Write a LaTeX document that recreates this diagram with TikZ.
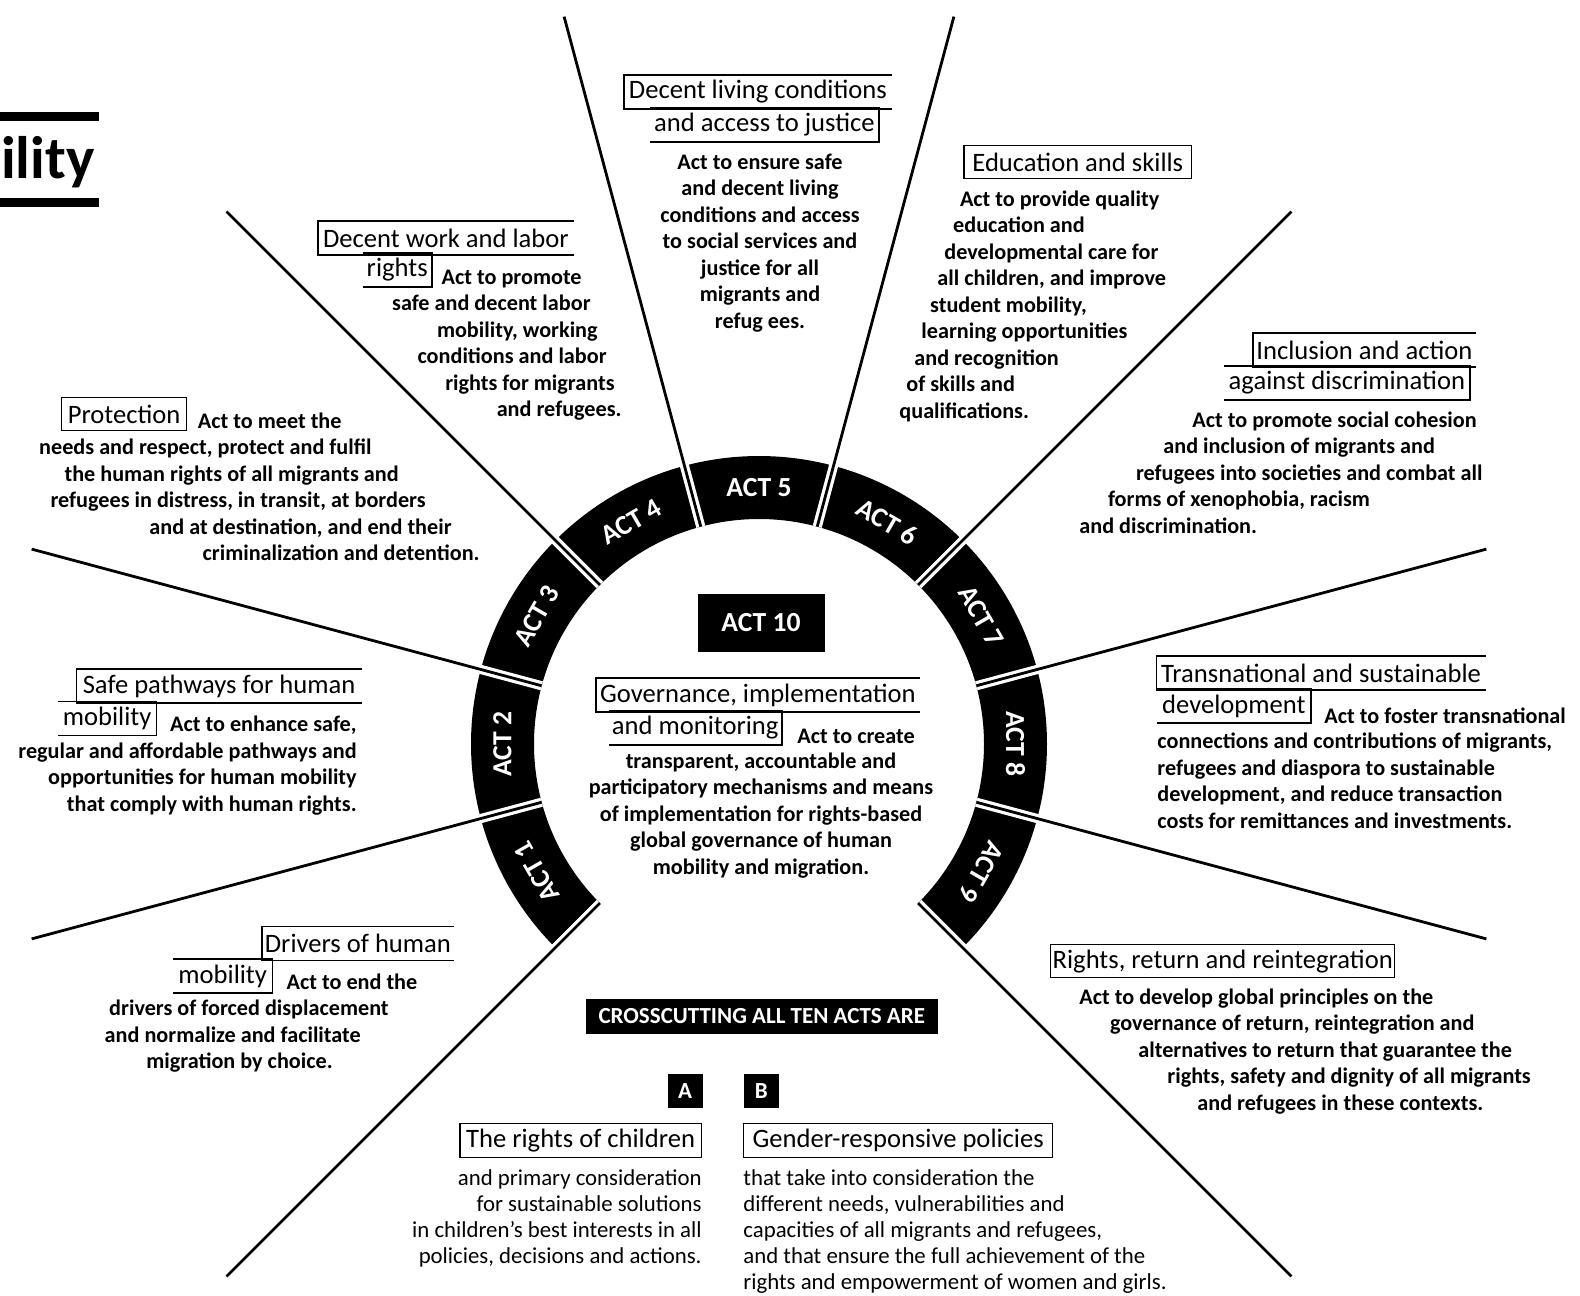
\documentclass[tikz,border=0pt]{standalone}
\usepackage{fontspec}
\setmainfont{Carlito}
\usepackage{tikz}
\usetikzlibrary{calc,positioning}

\newcommand\fonthead{\fontsize{13.3}{15}\selectfont}
\newcommand\fontbody{\fontsize{11.1}{13.25}\selectfont\bfseries}
\newcommand\fontnote{\fontsize{11.4}{13}\selectfont}
\newcommand\fontact{\fontsize{13.8}{15}\selectfont\bfseries}
\newcommand\fontletter{\fontsize{11.5}{13}\selectfont\bfseries}
\newcommand\fontbig{\fontsize{30}{32}\selectfont\bfseries}

\begin{document}
\begin{tikzpicture}[x=0.5pt,y=-0.5pt]
\tikzstyle{ring}=[fill=black]
\tikzstyle{gap}=[white,line width=4.6pt]
\tikzstyle{spoke}=[line width=1.4pt]
\tikzstyle{act label}=[text=white,font=\fontact,inner sep=0pt]
\tikzstyle{act box}=[fill=black,text=white,font=\fontact,minimum width=63.5pt,minimum height=29pt]
\tikzstyle{head}=[font=\fonthead,inner sep=0pt,minimum height=16.5pt]
\tikzstyle{head box}=[head,draw,line width=0.7pt]
\tikzstyle{head line}=[line width=0.7pt]
\tikzstyle{body}=[font=\fontbody,inner sep=0pt]
\tikzstyle{note}=[font=\fontnote,inner sep=0pt]
\tikzstyle{letter box}=[fill=black,text=white,font=\fontletter,minimum width=17.5pt,minimum height=17pt,inner sep=0pt]

\useasboundingbox (0,0) rectangle (1580,1296);
\coordinate (c) at (759,744);

% cut title
\fill (0,112) rectangle (99,121);
\fill (0,198) rectangle (99,207);
\node[anchor=base east,font=\fontbig,inner sep=0pt] (mob) at (95,178) {ility};

% ring of acts
\foreach \i in {1,...,9}{
  \pgfmathsetmacro\a{210-30*(\i-1)}
  \pgfmathsetmacro\sa{-\a-15}
  \pgfmathsetmacro\ea{-\a+15}
  \fill[ring] ($(c)+(\sa:288)$) arc[start angle=\sa,end angle=\ea,radius=288]
    -- ($(c)+(\ea:225)$) arc[start angle=\ea,end angle=\sa,radius=225] -- cycle;
  \node[act label,rotate=\a-90] (act\i) at ($(c)+(-\a:256.5)$) {ACT \i};
}

% spokes between the acts
\foreach \s [count=\k] in {225,195,...,-45}{
  \coordinate (sin\k) at ($(c)+(-\s:225)$);
  \coordinate (sring\k) at ($(c)+(-\s:292)$);
  \coordinate (sout\k) at ($(c)+(-\s:753)$);
  \draw[gap] (sin\k) -- (sring\k);
  \draw[spoke] (sin\k) -- (sout\k);
}

% act 10 in the middle
\node[act box] (act10) at (761,623) {ACT 10};
\node[head,anchor=north west,minimum width=161.5pt] (gov1) at (596,678) {Governance, implementation};
\node[head,anchor=north west,minimum width=86.2pt] (gov2) at (608.6,711) {and monitoring};
\draw[head line] (gov1.north east) -| (gov1.south west) -- (gov1.south east);
\draw[head line] (gov2.north west) -| (gov2.south east) -- (gov2.south west);
\node[body,anchor=west] (gov3) at (797,736) {Act to create};
\node[body,align=center,anchor=north] (gov4) at (761,752.5) {transparent, accountable and\\participatory mechanisms and means\\of implementation for rights-based\\global governance of human\\mobility and migration.};

% act 5
\node[head,anchor=north west,minimum width=133.5pt] (liv1) at (624,75) {Decent living conditions};
\node[head,anchor=north west,minimum width=114pt] (liv2) at (650,108) {and access to justice};
\draw[head line] (liv1.north east) -| (liv1.south west) -- (liv1.south east);
\draw[head line] (liv2.north west) -| (liv2.south east) -- (liv2.south west);
\node[body,align=center,anchor=north] (liv3) at (760,153.5) {Act to ensure safe\\and decent living\\conditions and access\\to social services and\\justice for all\\migrants and\\refug ees.};

% act 4
\node[head,anchor=north west,minimum width=127.5pt] (work1) at (318,221) {Decent work and labor};
\node[head,anchor=north west,minimum width=34.3pt] (work2) at (362.5,253) {rights};
\draw[head line] (work1.north east) -| (work1.south west) -- (work1.south east);
\draw[head line] (work2.north west) -| (work2.south east) -- (work2.south west);
\node[body,align=right,anchor=north east] (work3) at (622,269.5) {Act to promote\kern20pt\\safe and decent labor\kern15.5pt\\mobility, working\kern12pt\\conditions and labor\kern7.5pt\\rights for migrants\kern3.5pt\\and refugees.};

% act 3
\node[head box,anchor=north west,minimum width=62.4pt] (prot1) at (61,397) {Protection};
\node[body,align=right,anchor=north east] (prot2) at (480,412.5) {Act to meet the\kern69pt\\needs and respect, protect and fulfil\kern54pt\\the human rights of all migrants and\kern40.5pt\\refugees in distress, in transit, at borders\kern27pt\\and at destination, and end their\kern14pt\\criminalization and detention.};

% act 2
\node[head,anchor=north west,minimum width=142pt] (safe1) at (76.7,669) {Safe pathways for human};
\node[head,anchor=north west,minimum width=49pt] (safe2) at (57.7,701.7) {mobility};
\draw[head line] (safe1.north east) -| (safe1.south west) -- (safe1.south east);
\draw[head line] (safe2.north west) -| (safe2.south east) -- (safe2.south west);
\node[body,align=right,anchor=north east] (safe3) at (357,716) {Act to enhance safe,\\regular and affordable pathways and\\opportunities for human mobility\\that comply with human rights.};

% act 1
\node[head,anchor=north west,minimum width=95.5pt] (drv1) at (262,926.7) {Drivers of human};
\node[head,anchor=north west,minimum width=49.3pt] (drv2) at (173,959) {mobility};
\draw[head line] (drv1.north east) -| (drv1.south west) -- (drv1.south east);
\draw[head line] (drv2.north west) -| (drv2.south east) -- (drv2.south west);
\node[body,align=right,anchor=north east] (drv3) at (417.7,973.5) {Act to end the\\drivers of forced displacement\kern14.3pt\\and normalize and facilitate\kern28.3pt\\migration by choice.\kern42.3pt};

% act 6
\node[head box,anchor=north west,minimum width=113.7pt] (edu1) at (963.4,145) {Education and skills};
\node[body,align=left,anchor=north west] (edu2) at (899,190.5) {\kern30.3pt Act to provide quality\\\kern26.9pt education and\\\kern22.5pt developmental care for\\\kern19pt all children, and improve\\\kern15.4pt student mobility,\\\kern11pt learning opportunities\\\kern7.5pt and recognition\\\kern3.5pt of skills and\\qualifications.};

% act 7
\node[head,anchor=north west,minimum width=111pt] (incl1) at (1253,333) {Inclusion and action};
\node[head,anchor=north west,minimum width=122.5pt] (incl2) at (1224,366) {against discrimination};
\draw[head line] (incl1.north east) -| (incl1.south west) -- (incl1.south east);
\draw[head line] (incl2.north west) -| (incl2.south east) -- (incl2.south west);
\node[body,align=left,anchor=north west] (incl3) at (1079,411.2) {\kern56.5pt Act to promote social cohesion\\\kern42pt and inclusion of migrants and\\\kern28.3pt refugees into societies and combat all\\\kern14.3pt forms of xenophobia, racism\\and discrimination.};

% act 8
\node[head,anchor=north west,minimum width=164pt] (trans1) at (1156.7,656) {Transnational and sustainable};
\node[head,anchor=north west,minimum width=76.7pt] (trans2) at (1156.7,689) {development};
\draw[head line] (trans1.north east) -| (trans1.south west) -- (trans1.south east);
\draw[head line] (trans2.north west) -| (trans2.south east) -- (trans2.south west);
\node[body,anchor=west] (trans3) at (1324,716) {Act to foster transnational};
\node[body,align=left,anchor=north west] (trans4) at (1157,732.5) {connections and contributions of migrants,\\refugees and diaspora to sustainable\\development, and reduce transaction\\costs for remittances and investments.};

% act 9
\node[head box,anchor=north west,minimum width=172pt] (ret1) at (1050,944) {Rights, return and reintegration};
\node[body,align=left,anchor=north west] (ret2) at (1079,988.5) {Act to develop global principles on the\\\kern15.3pt governance of return, reintegration and\\\kern29.5pt alternatives to return that guarantee the\\\kern44pt rights, safety and dignity of all migrants\\\kern59pt and refugees in these contexts.};

% crosscutting
\node[fill=black,text=white,font=\fontletter,minimum width=176pt,minimum height=17.5pt,inner sep=0pt] (cross) at (761.8,1016.5) {CROSSCUTTING ALL TEN ACTS ARE};
\node[letter box] (boxa) at (685,1091) {A};
\node[letter box,right=20.3pt of boxa] (boxb) {B};
\node[head box,anchor=north east,minimum width=120.7pt,minimum height=17pt] (kids1) at (702,1123) {The rights of children};
\node[head box,anchor=north west,minimum width=154.5pt,minimum height=17pt] (gend1) at (743,1123) {Gender-responsive policies};
\node[note,align=right,anchor=north east] (kids2) at (702,1169.5) {and primary consideration\\for sustainable solutions\\in children’s best interests in all\\policies, decisions and actions.};
\node[note,align=left,anchor=north west] (gend2) at (743,1169.5) {that take into consideration the\\different needs, vulnerabilities and\\capacities of all migrants and refugees,\\and that ensure the full achievement of the\\rights and empowerment of women and girls.};

\end{tikzpicture}
\end{document}
